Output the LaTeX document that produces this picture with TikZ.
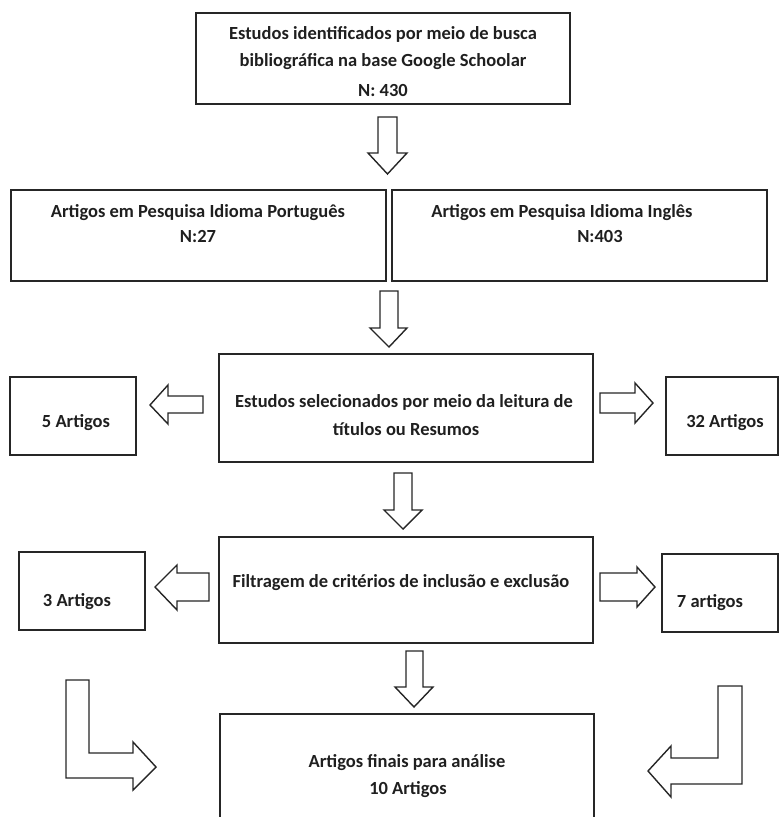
\documentclass[tikz,border=0pt]{standalone}
\usepackage{fontspec}
\setmainfont{Carlito}
\begin{document}
\begin{tikzpicture}[x=1pt,y=-1pt,
  box/.style={draw=black!85,line width=1.5pt},
  blk/.style={draw=black!85,line width=1.4pt,line join=miter,fill=white},
  lbl/.style={inner sep=0pt,font=\fontsize{18.5}{28}\selectfont\bfseries,text=black!88,align=center}]
\clip (0,0) rectangle (781,817);
\useasboundingbox (0,0) rectangle (781,817);
% boxes
\draw[box] (196,13) rectangle (570,104);
\draw[box] (11,190) rectangle (386,281);
\draw[box] (392,190) rectangle (767,281);
\draw[box] (219,354) rectangle (593,462);
\draw[box] (10,377) rectangle (136,455);
\draw[box] (666,377) rectangle (778,455);
\draw[box] (219,537) rectangle (593,643);
\draw[box] (19,552) rectangle (145,630);
\draw[box] (662,554) rectangle (778,632);
\draw[box] (220,714) rectangle (594,840);
% texts
\node[lbl] (t1) at (383,34) {Estudos identificados por meio de busca};
\node[lbl] (t2) at (383,62) {bibliográfica na base Google Schoolar};
\node[lbl] (t3) at (383,90) {N: 430};
\node[lbl] (pt1) at (198,213) {Artigos em Pesquisa Idioma Português};
\node[lbl] (pt2) at (198,236) {N:27};
\node[lbl] (en1) at (562,213) {Artigos em Pesquisa Idioma Inglês};
\node[lbl] (en2) at (600,236) {N:403};
\node[lbl] (s1) at (404,402) {Estudos selecionados por meio da leitura de};
\node[lbl] (s2) at (406,429) {títulos ou Resumos};
\node[lbl] (a5) at (76,423) {5 Artigos};
\node[lbl] (a32) at (725,423) {32 Artigos};
\node[lbl] (f1) at (401,583) {Filtragem de critérios de inclusão e exclusão};
\node[lbl] (a3) at (77,602) {3 Artigos};
\node[lbl] (a7) at (710,603) {7 artigos};
\node[lbl] (fin1) at (407,763) {Artigos finais para análise};
\node[lbl] (fin2) at (408,790) {10 Artigos};
% down block arrows
\draw[blk] (378,117) -- (397,117) -- (397,153) -- (407,153) -- (387.5,174) -- (368,153) -- (378,153) -- cycle;
\draw[blk] (380,291) -- (398,291) -- (398,328) -- (407,328) -- (389,347) -- (370,328) -- (380,328) -- cycle;
\draw[blk] (394,473) -- (412,473) -- (412,510) -- (422,510) -- (403,529) -- (384,510) -- (394,510) -- cycle;
\draw[blk] (406,651) -- (423,651) -- (423,687) -- (433,687) -- (414,707) -- (395,687) -- (406,687) -- cycle;
% side block arrows
\draw[blk] (203,396) -- (168,396) -- (168,385) -- (150,405) -- (168,424) -- (168,413) -- (203,413) -- cycle;
\draw[blk] (600,393) -- (635,393) -- (635,383) -- (653,403) -- (635,423) -- (635,413) -- (600,413) -- cycle;
\draw[blk] (209,573) -- (177,573) -- (177,565) -- (155,587) -- (177,610) -- (177,601) -- (209,601) -- cycle;
\draw[blk] (600,573) -- (637,573) -- (637,567) -- (655,587) -- (637,607) -- (637,601) -- (600,601) -- cycle;
% bent block arrows
\draw[blk] (66,680) -- (89,680) -- (89,753) -- (133,753) -- (133,742) -- (156,767) -- (133,790) -- (133,778) -- (66,778) -- cycle;
\draw[blk] (742,686) -- (718,686) -- (718,758) -- (671,758) -- (671,746) -- (648,771) -- (671,797) -- (671,784) -- (742,784) -- cycle;
\end{tikzpicture}
\end{document}
